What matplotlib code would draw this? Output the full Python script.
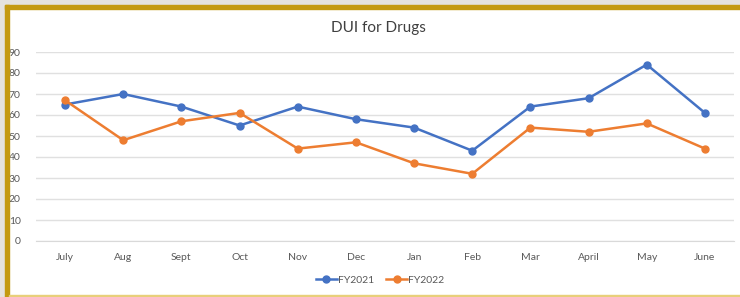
import matplotlib.pyplot as plt
from matplotlib.patches import Rectangle

months = ['July', 'Aug', 'Sept', 'Oct', 'Nov', 'Dec', 'Jan', 'Feb', 'Mar', 'April', 'May', 'June']
fy2021 = [65, 70, 64, 55, 64, 58, 54, 43, 64, 68, 84, 61]
fy2022 = [67, 48, 57, 61, 44, 47, 37, 32, 54, 52, 56, 44]
yticks = [0, 10, 20, 30, 40, 50, 60, 70, 80, 90]

plt.rcParams['font.family'] = ['Lato', 'DejaVu Sans']

W, H = 740, 297
fig = plt.figure(figsize=(W/100, H/100), dpi=100)
fig.patch.set_facecolor('white')

## frame: gray outer strip on top/left, gold border
gray = '#e5e3dd'
gold = '#c49a10'
fig.patches.append(Rectangle((0, 1 - 5/H), 1, 5/H, transform=fig.transFigure, color=gray, zorder=0))
fig.patches.append(Rectangle((0, 0), 5/W, 1, transform=fig.transFigure, color=gray, zorder=0))
fig.patches.append(Rectangle((5/W, 1 - 9/H), 1 - 5/W, 4/H, transform=fig.transFigure, color=gold, zorder=1))
fig.patches.append(Rectangle((5/W, 0), 4/W, 1 - 5/H, transform=fig.transFigure, color=gold, zorder=1))
fig.patches.append(Rectangle((9/W, 0), 1 - 9/W, 2/H, transform=fig.transFigure, color='#e8cf7a', zorder=1))

ax = fig.add_axes([36/W, 56/H, (734-36)/W, (245-56)/H])
x = range(len(months))
ax.plot(x, fy2021, color='#4472c4', lw=1.8, marker='o', ms=5, label='FY2021', zorder=3)
ax.plot(x, fy2022, color='#ed7d31', lw=1.8, marker='o', ms=5, label='FY2022', zorder=3)

ax.set_xlim(-0.5, len(months) - 0.5)
ax.set_ylim(0, 90)
ax.set_yticks(yticks)
ax.set_xticks(list(x))
ax.set_xticklabels(months)
ax.grid(axis='y', color='#e0e0e0', lw=1)
ax.set_axisbelow(True)
for s in ['top', 'right', 'left']:
    ax.spines[s].set_visible(False)
ax.spines['bottom'].set_color('#d9d9d9')
ax.tick_params(axis='both', length=0, labelsize=7.5, labelcolor='#595959')
ax.tick_params(axis='y', pad=11)
ax.tick_params(axis='x', pad=9)

fig.text(378/W, 1 - 28/H, 'DUI for Drugs', ha='center', va='center', fontsize=11, color='#404040')

ax.legend(loc='center', bbox_to_anchor=(380/W, 1 - 280/H), bbox_transform=fig.transFigure,
          ncol=2, frameon=False, fontsize=7.5, labelcolor='#595959', handlelength=2.0,
          handletextpad=0.1, columnspacing=1.2)

fig.savefig('out.png', dpi=100)
